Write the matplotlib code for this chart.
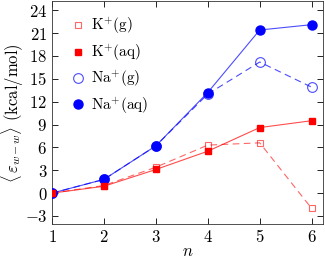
import matplotlib
matplotlib.use('Agg')
import matplotlib.pyplot as plt
from matplotlib.lines import Line2D
from matplotlib.ticker import FuncFormatter
import numpy as np

plt.rcParams['mathtext.fontset'] = 'cm'
plt.rcParams['font.family'] = 'serif'
plt.rcParams['font.serif'] = ['DejaVu Serif']

# cluster size
n = [1, 2, 3, 4, 5, 6]

# <eps_w-w> in kcal/mol
k_gas = [0.0, 1.0, 3.4, 6.3, 6.6, -2.0]
k_aq = [0.0, 0.9, 3.1, 5.5, 8.6, 9.5]
na_gas = [0.0, 1.8, 6.2, 13.0, 17.2, 13.9]
na_aq = [0.0, 1.8, 6.2, 13.2, 21.4, 22.1]

labels = [r'$\mathrm{K^{+}(g)}$', r'$\mathrm{K^{+}(aq)}$',
          r'$\mathrm{Na^{+}(g)}$', r'$\mathrm{Na^{+}(aq)}$']

fig = plt.figure(figsize=(3.25, 2.6), dpi=100)
ax = fig.add_axes([0.16, 0.137, 0.834, 0.859])

red = '#ff0000'
blue = '#0000ff'

ax.plot(n, k_gas, color=red, alpha=0.6, lw=0.8, ls=(0, (6, 4)), zorder=2)
ax.plot(n, k_gas, ls='none', marker='s', ms=5, mfc='none', mec=red, mew=0.8, alpha=0.6, zorder=3)
ax.plot(n, na_gas, color=blue, alpha=0.7, lw=0.8, ls=(0, (6, 4)), zorder=2)
ax.plot(n, na_gas, ls='none', marker='o', ms=7, mfc='none', mec=blue, mew=0.8, alpha=0.7, zorder=3)
ax.plot(n, na_aq, color=blue, alpha=0.7, lw=0.8, zorder=2)
ax.plot(n, na_aq, ls='none', marker='o', ms=6.5, color=blue, zorder=4)
ax.plot(n, k_aq, color=red, alpha=0.7, lw=0.8, zorder=2)
ax.plot(n, k_aq, ls='none', marker='s', ms=5, color=red, zorder=5)

ax.set_xlim(1, 6.22)
ax.set_ylim(-4.1, 25.2)
ax.set_xticks(n)
ax.set_yticks(np.arange(-3, 25, 3))
fmt = FuncFormatter(lambda v, p: r'$%d$' % v)
ax.xaxis.set_major_formatter(fmt)
ax.yaxis.set_major_formatter(fmt)
ax.tick_params(direction='in', top=True, right=True, labelsize=12, length=4, width=0.6)
for s in ax.spines.values():
    s.set_linewidth(0.6)
    s.set_color('#333333')

ax.set_xlabel(r'$n$', fontsize=12, labelpad=-2)
ax.set_ylabel(r'$\langle\, \varepsilon_{w-w} \rangle$ $\mathrm{(kcal/mol)}$', fontsize=12, labelpad=-1)

handles = [
    Line2D([], [], ls='none', marker='s', ms=5, mfc='none', mec=red, mew=0.8, alpha=0.6),
    Line2D([], [], ls='none', marker='s', ms=5, color=red),
    Line2D([], [], ls='none', marker='o', ms=7, mfc='none', mec=blue, mew=0.8, alpha=0.7),
    Line2D([], [], ls='none', marker='o', ms=6.5, color=blue),
]
ax.legend(handles, labels, loc='upper left', frameon=False, fontsize=11,
          handlelength=1.0, handletextpad=0.3, labelspacing=0.4,
          borderaxespad=0.3, bbox_to_anchor=(0.03, 0.98))

fig.savefig('out.png', dpi=100)
